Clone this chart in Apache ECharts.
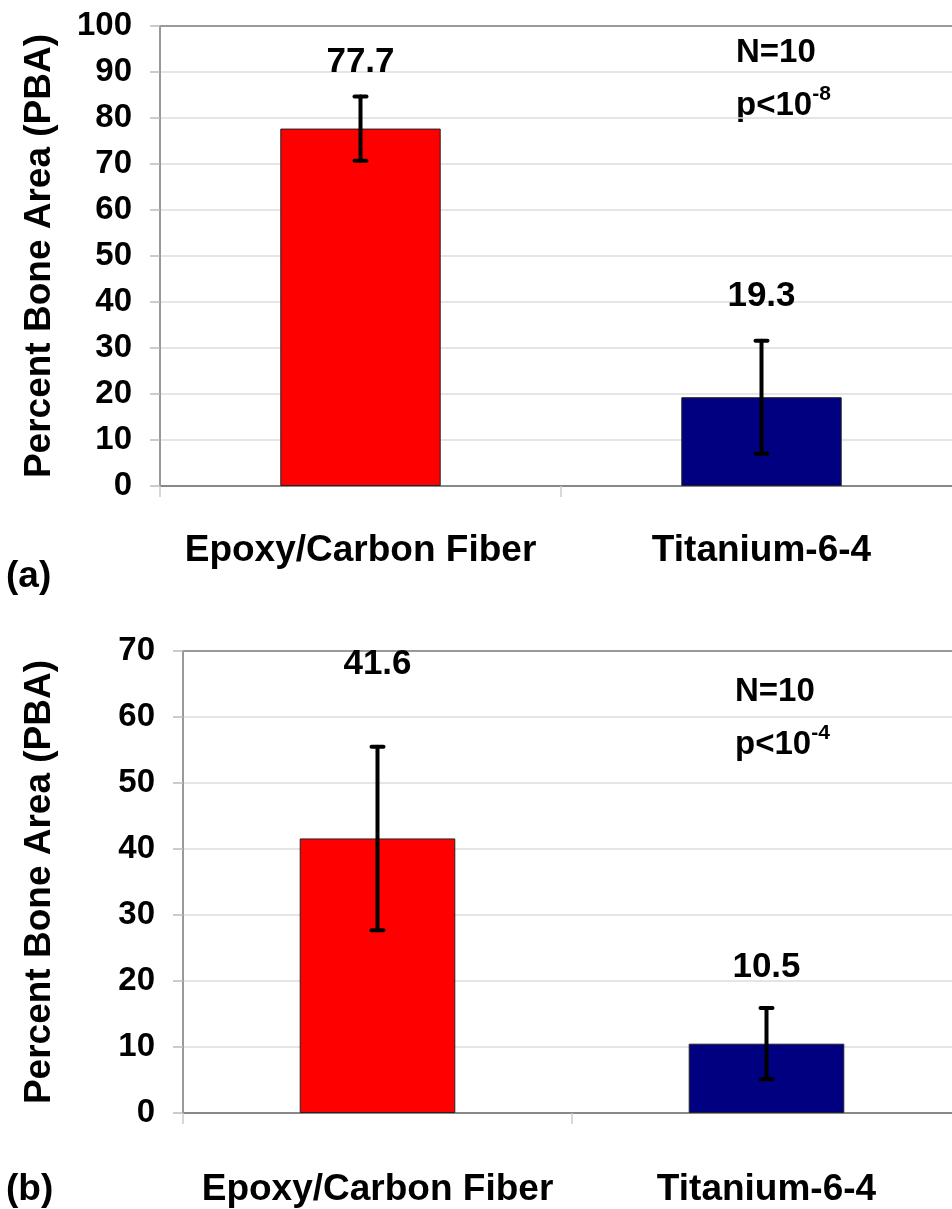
<!DOCTYPE html>
<html>
<head>
<meta charset="utf-8">
<script src="https://cdn.jsdelivr.net/npm/echarts@6/dist/echarts.min.js"></script>
<style>
html,body{margin:0;padding:0;background:#fff;}
#chart{width:952px;height:1209px;}
</style>
</head>
<body>
<div id="chart"></div>
<script>
// ---- data ----
const categories = ['Epoxy/Carbon Fiber', 'Titanium-6-4'];
// panel (a)
const valuesA = [77.7, 19.3];
const errA = [7.0, 12.3];
const labelAtA = [92.2, 41.3];   // where the value annotations sit (data units)
// panel (b)
const valuesB = [41.6, 10.5];
const errB = [13.9, 5.4];
const labelAtB = [68.0, 22.0];
const yTicksA = {min: 0, max: 100, interval: 10};
const yTicksB = {min: 0, max: 70, interval: 10};
const barColors = ['#FF0000', '#000080'];

const FONT = '"Liberation Sans", Arial, sans-serif';

function errRender(params, api) {
  const x = api.value(0), lo = api.value(1), hi = api.value(2), at = api.value(3), v = api.value(4);
  const pHi = api.coord([x, hi]);
  const pLo = api.coord([x, lo]);
  const pT = api.coord([x, at]);
  const cap = 6;
  const st = {stroke: '#000', lineWidth: 4, lineCap: 'round'};
  return {
    type: 'group',
    children: [
      {type: 'line', shape: {x1: pHi[0], y1: pHi[1], x2: pLo[0], y2: pLo[1]}, style: st},
      {type: 'line', shape: {x1: pHi[0] - cap, y1: pHi[1], x2: pHi[0] + cap, y2: pHi[1]}, style: st},
      {type: 'line', shape: {x1: pLo[0] - cap, y1: pLo[1], x2: pLo[0] + cap, y2: pLo[1]}, style: st},
      {type: 'text', x: pT[0], y: pT[1], style: {
        text: v.toFixed(1), fontFamily: FONT, fontWeight: 'bold', fontSize: 35, fill: '#000',
        textAlign: 'center', textVerticalAlign: 'middle'
      }}
    ]
  };
}

function yAxis(idx, ticks, gap) {
  return {
    type: 'value', gridIndex: idx, min: ticks.min, max: ticks.max, interval: ticks.interval,
    name: 'Percent Bone Area (PBA)', nameLocation: 'middle', nameGap: gap,
    nameTextStyle: {fontFamily: FONT, fontWeight: 'bold', fontSize: 37, color: '#000'},
    axisLine: {show: true, lineStyle: {color: '#999', width: 2}},
    axisTick: {show: true, length: 10, lineStyle: {color: '#bbb', width: 1.5}},
    splitLine: {show: true, lineStyle: {color: '#ddd', width: 1.5}},
    axisLabel: {fontFamily: FONT, fontWeight: 'bold', fontSize: 33, color: '#000', margin: 28}
  };
}
function xAxis(idx, margin) {
  return {
    type: 'category', gridIndex: idx, data: categories,
    axisLine: {show: true, lineStyle: {color: '#888', width: 2}},
    axisTick: {show: true, length: 11, interval: 0, lineStyle: {color: '#ccc', width: 1.5}},
    axisLabel: {fontFamily: FONT, fontWeight: 'bold', fontSize: 37, color: '#000', margin: margin, interval: 0}
  };
}
function barSeries(idx, vals, ticks) {
  return {
    type: 'bar', xAxisIndex: idx, yAxisIndex: idx, barWidth: '40%',
    data: vals.map((v, i) => ({value: v, itemStyle: {color: barColors[i]}})),
    itemStyle: {borderColor: '#222', borderWidth: 1},
    markLine: {
      silent: true, symbol: 'none', label: {show: false},
      lineStyle: {color: '#999', width: 2, type: 'solid'},
      data: [{yAxis: ticks.max}]
    }
  };
}
function errSeries(idx, vals, errs, at) {
  return {
    type: 'custom', xAxisIndex: idx, yAxisIndex: idx, z: 5,
    renderItem: errRender,
    data: vals.map((v, i) => [i, v - errs[i], v + errs[i], at[i], v])
  };
}
function statText(x, y, exp) {
  return [
    {type: 'text', x: x, y: y, style: {text: 'N=10', fontFamily: FONT, fontWeight: 'bold', fontSize: 33, fill: '#000', textVerticalAlign: 'middle'}},
    {type: 'text', x: x, y: y + 53, style: {
      text: '{b|p<10}{s|' + exp + '}',
      textVerticalAlign: 'middle',
      rich: {
        b: {fontFamily: FONT, fontWeight: 'bold', fontSize: 33, color: '#000', lineHeight: 44},
        s: {fontFamily: FONT, fontWeight: 'bold', fontSize: 21, color: '#000', lineHeight: 21, verticalAlign: 'top'}
      }
    }}
  ];
}

const chart = echarts.init(document.getElementById('chart'));
chart.setOption({
  backgroundColor: '#fff',
  animation: false,
  grid: [
    {left: 160, top: 26, width: 802, height: 460, outerBoundsMode: 'none', containLabel: false},
    {left: 183, top: 651, width: 778, height: 462, outerBoundsMode: 'none', containLabel: false}
  ],
  xAxis: [xAxis(0, 46), xAxis(1, 58)],
  yAxis: [yAxis(0, yTicksA, 102), yAxis(1, yTicksB, 125)],
  series: [
    barSeries(0, valuesA, yTicksA), errSeries(0, valuesA, errA, labelAtA),
    barSeries(1, valuesB, yTicksB), errSeries(1, valuesB, errB, labelAtB)
  ],
  graphic: [
    {type: 'text', x: 6, y: 577, style: {text: '(a)', fontFamily: FONT, fontWeight: 'bold', fontSize: 37, fill: '#000', textVerticalAlign: 'middle'}},
    {type: 'text', x: 6, y: 1190, style: {text: '(b)', fontFamily: FONT, fontWeight: 'bold', fontSize: 37, fill: '#000', textVerticalAlign: 'middle'}}
  ].concat(statText(736, 53, '-8'), statText(735, 692, '-4'))
});
</script>
</body>
</html>
